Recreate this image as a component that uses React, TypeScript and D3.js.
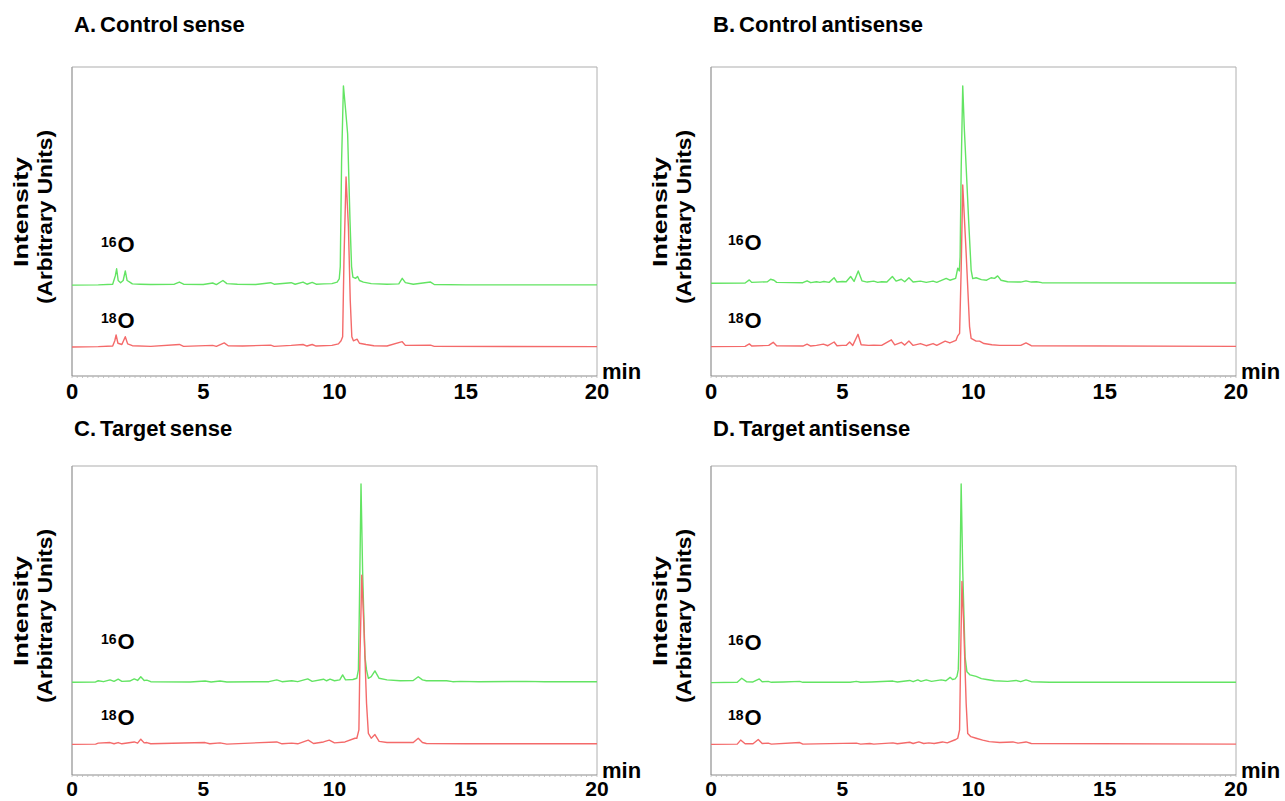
import React from 'react';
import * as d3 from 'd3';

type Pt = [number, number];

// panel titles
const titles = ['A. Control sense', 'B. Control antisense', 'C. Target sense', 'D. Target antisense'];
const xTicks = [0, 5, 10, 15, 20];

// trace baselines (offset of each chromatogram, % of panel height)
const greenBase = [29.4, 30.0, 30.0, 29.9];
const redBase = [9.4, 9.5, 9.9, 9.9];

// [time (min), intensity above baseline]
const aGreen: Pt[] = [
  [0, 0], [1.0, 0.1], [1.55, 0.3], [1.65, 3], [1.7, 5.3], [1.76, 1.5], [1.85, 0.8], [1.95, 1.5], [2.03, 4.6],
  [2.1, 1.5], [2.2, 1.0], [2.3, 0.4], [2.6, 0.3], [3.0, 0.2], [3.9, 0.3], [4.09, 1.0], [4.25, 0.3], [5.0, 0.2],
  [5.36, 0.7], [5.5, 0.2], [5.75, 1.5], [5.9, 0.5], [6.3, 0.3], [7.0, 0.2], [7.57, 0.8], [7.7, 0.3], [8.35, 0.8],
  [8.5, 0.3], [8.8, 1.0], [8.95, 0.3], [9.15, 0.9], [9.3, 0.3], [9.6, 0.4], [9.9, 0.5], [10.1, 1.0], [10.18, 2],
  [10.22, 6], [10.27, 40], [10.34, 64.5], [10.42, 57], [10.5, 49], [10.59, 21], [10.65, 6], [10.7, 2.6],
  [10.8, 2.2], [10.88, 2.8], [10.95, 1.5], [11.1, 1.0], [11.4, 0.5], [12.0, 0.3], [12.45, 0.4], [12.58, 2.2],
  [12.7, 0.8], [13.0, 0.3], [13.66, 1.0], [13.8, 0.2], [15, 0.1], [17, 0.1], [20, 0.1],
];
const aRed: Pt[] = [
  [0, 0], [1.0, 0.1], [1.55, 0.3], [1.63, 2], [1.68, 3.9], [1.75, 1.2], [1.9, 0.8], [2.03, 3.3], [2.12, 1.0],
  [2.3, 0.4], [3.0, 0.2], [4.09, 0.8], [4.25, 0.2], [5.36, 0.5], [5.5, 0.2], [5.8, 1.3], [5.95, 0.4], [6.5, 0.3],
  [7.57, 0.6], [7.7, 0.2], [8.35, 0.5], [8.8, 0.8], [8.95, 0.3], [9.15, 0.8], [9.3, 0.3], [9.9, 0.5], [10.15, 1.0],
  [10.25, 2], [10.31, 3.3], [10.36, 28], [10.44, 55], [10.53, 39], [10.6, 15], [10.66, 3.3], [10.72, 2],
  [10.86, 2.5], [10.95, 1.2], [11.2, 0.8], [11.5, 0.4], [12.0, 0.3], [12.58, 1.7], [12.7, 0.5], [13.66, 0.6],
  [13.8, 0.2], [20, 0.1],
];

const bGreen: Pt[] = [
  [0, 0], [1.3, 0.1], [1.46, 1.1], [1.55, 0.3], [2.15, 0.5], [2.27, 1.3], [2.4, 1.0], [2.5, 0.3], [3.5, 0.2],
  [3.66, 0.8], [3.8, 0.2], [4.02, 0.5], [4.15, 0.3], [4.3, 0.6], [4.5, 0.3], [4.69, 1.8], [4.8, 0.4], [5.0, 0.6],
  [5.15, 0.5], [5.32, 2.2], [5.45, 0.6], [5.61, 4], [5.75, 0.8], [5.95, 0.4], [6.2, 0.7], [6.35, 0.3], [6.5, 0.5],
  [6.7, 0.4], [6.91, 2.2], [7.05, 0.7], [7.25, 1.3], [7.38, 0.5], [7.54, 1.8], [7.7, 0.4], [7.98, 0.7], [8.2, 0.3],
  [8.46, 0.7], [8.6, 0.3], [8.96, 1.6], [9.1, 1.0], [9.32, 1.6], [9.4, 4.9], [9.46, 4], [9.49, 8.6], [9.53, 36.7],
  [9.59, 63.9], [9.65, 50], [9.72, 37.7], [9.82, 19.4], [9.91, 4.3], [9.97, 1.5], [10.1, 1.8], [10.3, 1.2],
  [10.5, 1.0], [10.67, 1.8], [10.8, 1.6], [10.92, 2.4], [11.05, 1.0], [11.3, 0.5], [11.8, 0.4], [12.0, 0.8],
  [12.2, 0.4], [12.4, 0.5], [12.6, 0.2], [20, 0.1],
];
const bRed: Pt[] = [
  [0, 0], [1.3, 0.1], [1.46, 0.9], [1.55, 0.2], [2.2, 0.4], [2.37, 1.4], [2.5, 0.3], [3.5, 0.2], [3.66, 0.8],
  [3.8, 0.2], [4.02, 0.4], [4.28, 0.8], [4.45, 0.3], [4.69, 1.5], [4.8, 0.3], [5.0, 0.4], [5.15, 0.4], [5.28, 1.5],
  [5.4, 0.4], [5.6, 4], [5.72, 0.6], [6.0, 0.4], [6.2, 0.5], [6.5, 0.4], [6.87, 2.2], [7.0, 0.6], [7.25, 1.4],
  [7.38, 0.5], [7.54, 1.8], [7.7, 0.4], [7.98, 1.0], [8.2, 0.3], [8.46, 1.0], [8.6, 0.4], [8.92, 1.8], [9.1, 1.2],
  [9.33, 2], [9.4, 3.5], [9.47, 4.3], [9.53, 24.8], [9.59, 52.3], [9.72, 30.2], [9.85, 6.5], [9.91, 2.7],
  [10.1, 1.8], [10.23, 1.8], [10.4, 1.0], [10.7, 0.6], [11.0, 0.4], [11.8, 0.4], [12.0, 1.2], [12.2, 0.3], [20, 0.1],
];

const cGreen: Pt[] = [
  [0, 0], [0.9, 0.1], [1.0, 0.5], [1.2, 0.2], [1.45, 0.8], [1.6, 0.3], [1.76, 1.0], [1.9, 0.3], [2.2, 0.4],
  [2.37, 1.1], [2.5, 0.6], [2.62, 1.8], [2.75, 0.6], [2.85, 0.7], [3.0, 0.2], [4.5, 0.1], [5.07, 0.4], [5.3, 0.1],
  [5.64, 0.4], [5.9, 0.1], [7.5, 0.2], [7.8, 0.8], [8.0, 0.2], [8.37, 0.5], [8.6, 0.2], [8.98, 1.1], [9.15, 0.3],
  [9.58, 1.0], [9.7, 0.5], [9.83, 1.0], [10.0, 0.5], [10.2, 0.8], [10.31, 2.4], [10.42, 0.8], [10.7, 0.9],
  [10.85, 1.3], [10.91, 4], [10.95, 25.6], [11.01, 64.2], [11.07, 36.3], [11.16, 8.3], [11.22, 4], [11.29, 1.3],
  [11.4, 1.8], [11.54, 3.7], [11.7, 1.3], [12.0, 0.8], [12.5, 0.5], [13.0, 0.6], [13.19, 1.8], [13.35, 0.8],
  [13.5, 0.5], [14.27, 0.5], [14.5, 0.2], [14.8, 0.3], [15.5, 0.2], [17.3, 0.3], [18, 0.2], [20, 0.2],
];
const cRed: Pt[] = [
  [0, 0], [0.9, 0.1], [1.0, 0.4], [1.45, 0.6], [1.6, 0.2], [1.76, 0.6], [1.9, 0.2], [2.37, 0.8], [2.5, 0.4],
  [2.62, 1.7], [2.75, 0.5], [2.85, 0.6], [3.0, 0.2], [5.07, 0.6], [5.25, 0.2], [5.64, 0.5], [5.9, 0.1], [7.8, 0.8],
  [8.0, 0.2], [8.37, 0.4], [8.6, 0.2], [9.0, 1.4], [9.2, 0.3], [9.58, 0.8], [9.8, 1.4], [10.0, 0.5], [10.4, 0.8],
  [10.78, 2], [10.85, 2], [10.93, 4.7], [10.97, 28.4], [11.04, 54.8], [11.12, 38.1], [11.22, 13.3], [11.29, 3.6],
  [11.4, 2.0], [11.54, 3.2], [11.7, 1.0], [12.0, 0.6], [13.0, 0.6], [13.19, 2], [13.35, 0.6], [13.5, 0.3],
  [15, 0.2], [17, 0.2], [20, 0.2],
];

const dGreen: Pt[] = [
  [0, 0], [1.0, 0.1], [1.17, 1.4], [1.35, 0.3], [1.6, 0.2], [1.84, 1.2], [1.95, 0.3], [2.18, 0.4], [2.3, 0.1],
  [2.76, 0.2], [3.38, 0.4], [3.5, 0.1], [5.3, 0.1], [5.54, 0.4], [5.7, 0.1], [6.1, 0.2], [6.93, 0.5], [7.1, 0.2],
  [7.57, 0.7], [7.7, 0.3], [7.88, 0.9], [8.0, 0.4], [8.2, 0.9], [8.4, 0.4], [8.77, 0.9], [8.95, 0.6], [9.11, 1.7],
  [9.2, 1.0], [9.3, 1.2], [9.37, 2], [9.42, 4.2], [9.44, 10.5], [9.47, 25.6], [9.53, 64.3], [9.59, 36.3],
  [9.68, 8.3], [9.75, 3.5], [9.87, 2.5], [10.1, 2], [10.3, 1.3], [10.5, 1.0], [10.8, 0.6], [11.3, 0.4],
  [11.62, 0.7], [11.8, 0.3], [12.0, 0.9], [12.2, 0.3], [12.9, 0.1], [13.7, 0.1], [20, 0.1],
];
const dRed: Pt[] = [
  [0, 0], [1.0, 0.1], [1.13, 1.4], [1.3, 0.2], [1.6, 0.2], [1.8, 1.6], [1.95, 0.3], [2.18, 0.4], [2.3, 0.1],
  [3.38, 0.6], [3.5, 0.1], [5.54, 0.4], [5.7, 0.1], [6.05, 0.3], [6.2, 0.1], [6.93, 0.5], [7.1, 0.2], [7.57, 0.7],
  [7.7, 0.3], [7.92, 0.8], [8.1, 0.3], [8.3, 0.5], [8.5, 0.3], [8.82, 0.8], [9.0, 0.5], [9.3, 1.5], [9.4, 2],
  [9.47, 4.7], [9.51, 28.4], [9.56, 52.7], [9.62, 40.3], [9.72, 13.3], [9.78, 3.5], [9.9, 2.5], [10.1, 2],
  [10.35, 1.4], [10.6, 0.9], [11.0, 0.6], [11.5, 0.8], [11.7, 0.4], [12.0, 0.8], [12.2, 0.3], [20, 0.1],
];

const greens = [aGreen, bGreen, cGreen, dGreen];
const reds = [aRed, bRed, cRed, dRed];

const FONT = '"Liberation Sans", Arial, Helvetica, sans-serif';
const GREEN = '#63e463';
const RED = '#f46a6a';

const PW = 525;
const PH = 309;
const origins: [number, number][] = [[72, 67], [711, 67], [72, 466], [711, 466]];
const titleGap = [35, 35, 30, 30];
const tickGap = [23, 23, 21, 21];

function Panel({ i }: { i: number }) {
  const [ox, oy] = origins[i];
  const x = d3.scaleLinear().domain([0, 20]).range([0, PW]);
  const y = d3.scaleLinear().domain([0, 100]).range([PH, 0]);
  const line = (base: number) =>
    d3.line<Pt>().x(d => x(d[0])).y(d => y(d[1] + base)).curve(d3.curveLinear);
  const minor = x.ticks(80);
  const lx = i % 2 ? 17 : 29;

  return (
    <g transform={`translate(${ox},${oy})`} fontFamily={FONT} fontWeight="bold">
      <text x={2} y={-titleGap[i]} fontSize={22} wordSpacing={-2}>{titles[i]}</text>

      {/* frame */}
      <line x1={0} x2={PW} y1={0} y2={0} stroke="#d6d6d6" strokeWidth={2} />
      <line x1={PW} x2={PW} y1={0} y2={PH} stroke="#b0b0b0" strokeWidth={1} />
      <line x1={0} x2={0} y1={0} y2={PH} stroke="#a0a0a0" strokeWidth={1.4} />
      <line x1={0} x2={PW} y1={PH} y2={PH} stroke="#8c8c8c" strokeWidth={1.2} />
      {minor.map(t => (
        <line key={t} x1={x(t)} x2={x(t)} y1={PH} y2={PH + 2} stroke="#b8b8b8" strokeWidth={0.8} />
      ))}

      {/* y label */}
      <g transform={`translate(-44,${145}) rotate(-90)`}>
        <text textAnchor="middle" fontSize={21} textLength={110} lengthAdjust="spacingAndGlyphs">Intensity</text>
      </g>
      <g transform={`translate(-20,${150}) rotate(-90)`}>
        <text textAnchor="middle" fontSize={21} textLength={174} lengthAdjust="spacingAndGlyphs">(Arbitrary Units)</text>
      </g>

      {/* traces */}
      <path d={line(greenBase[i])(greens[i]) || ''} fill="none" stroke={GREEN} strokeWidth={1.4} strokeLinejoin="round" />
      <path d={line(redBase[i])(reds[i]) || ''} fill="none" stroke={RED} strokeWidth={1.4} strokeLinejoin="round" />

      {/* isotope labels */}
      <text x={lx} y={y(greenBase[i]) - 33}>
        <tspan fontSize={14} dy={-5}>16</tspan>
        <tspan fontSize={22} dy={5} dx={1}>O</tspan>
      </text>
      <text x={lx} y={y(redBase[i]) - 19}>
        <tspan fontSize={14} dy={-5}>18</tspan>
        <tspan fontSize={22} dy={5} dx={1}>O</tspan>
      </text>

      {/* x axis */}
      {xTicks.map(t => (
        <text key={t} x={x(t)} y={PH + tickGap[i]} textAnchor="middle" fontSize={i > 1 ? 21 : 22}>{t}</text>
      ))}
      <text x={PW + 5} y={PH + 3} fontSize={22}>min</text>
    </g>
  );
}

export default function App() {
  return (
    <svg width={1285} height={801} style={{ position: 'absolute', left: 0, top: 0, background: '#fff' }}>
      <rect width={1285} height={801} fill="#fff" />
      {[0, 1, 2, 3].map(i => <Panel key={i} i={i} />)}
    </svg>
  );
}
